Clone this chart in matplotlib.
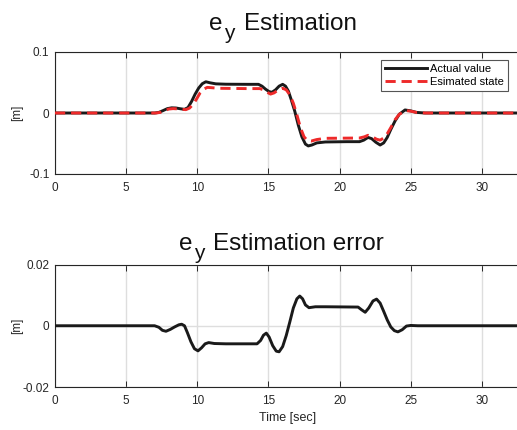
import matplotlib
matplotlib.use("Agg")
import matplotlib.pyplot as plt

plt.rcParams['font.family'] = ['Liberation Sans', 'DejaVu Sans']

# ---- data ----
t_actual = [0, 7.0, 7.3, 7.6, 7.9, 8.2, 8.5, 8.8, 9.1, 9.35, 9.6, 9.85, 10.1, 10.35,
            10.6, 10.9, 11.3, 12.0, 13.5, 14.3, 14.55, 14.8, 15.05, 15.25, 15.5, 15.75,
            16.0, 16.2, 16.4, 16.6, 16.85, 17.1, 17.35, 17.6, 17.8, 18.05, 18.4, 19.0,
            20.5, 21.4, 21.7, 22.0, 22.25, 22.55, 22.85, 23.1, 23.35, 23.6, 23.9, 24.2,
            24.6, 25.0, 25.4, 26.0, 33.0]
v_actual = [0, 0, 0.001, 0.004, 0.0072, 0.0085, 0.0082, 0.007, 0.006, 0.009, 0.019,
            0.031, 0.041, 0.048, 0.0512, 0.0495, 0.0478, 0.0472, 0.047, 0.047, 0.044,
            0.039, 0.035, 0.034, 0.038, 0.044, 0.047, 0.044, 0.036, 0.022, 0.003, -0.020,
            -0.039, -0.051, -0.054, -0.0525, -0.049, -0.0475, -0.047, -0.047, -0.0445,
            -0.040, -0.042, -0.048, -0.0525, -0.049, -0.040, -0.027, -0.013, -0.002,
            0.005, 0.0035, 0.001, 0, 0]

t_est = [0, 7.1, 7.4, 7.7, 8.0, 8.3, 8.6, 8.9, 9.2, 9.45, 9.7, 9.95, 10.2, 10.45, 10.7,
         11.0, 11.5, 13.5, 14.4, 14.65, 14.9, 15.15, 15.4, 15.7, 16.0, 16.25, 16.5,
         16.75, 17.0, 17.25, 17.5, 17.75, 18.0, 18.4, 19.0, 21.4, 21.75, 22.0, 22.3,
         22.6, 22.85, 23.1, 23.35, 23.6, 23.9, 24.2, 24.65, 25.0, 25.4, 26.0, 33.0]
v_est = [0, 0, 0.001, 0.004, 0.0065, 0.0072, 0.0068, 0.006, 0.0055, 0.008, 0.014,
         0.023, 0.033, 0.039, 0.042, 0.0415, 0.0405, 0.040, 0.040, 0.038, 0.034, 0.031,
         0.033, 0.038, 0.0405, 0.038, 0.030, 0.016, -0.003, -0.024, -0.039, -0.0455,
         -0.046, -0.0435, -0.0415, -0.041, -0.039, -0.0365, -0.039, -0.043, -0.0445,
         -0.041, -0.034, -0.024, -0.011, -0.002, 0.004, 0.003, 0.001, 0, 0]

t_err = [0, 7.0, 7.3, 7.55, 7.8, 8.1, 8.4, 8.7, 8.9, 9.1, 9.3, 9.55, 9.8, 10.05, 10.3,
         10.55, 10.8, 11.2, 12.0, 14.2, 14.45, 14.65, 14.85, 15.05, 15.3, 15.55, 15.75,
         16.0, 16.25, 16.5, 16.75, 17.0, 17.2, 17.4, 17.6, 17.85, 18.3, 19.0, 21.3,
         21.55, 21.8, 22.05, 22.35, 22.6, 22.85, 23.1, 23.35, 23.6, 23.85, 24.1, 24.4,
         24.7, 25.0, 25.5, 33.0]
v_err = [0, 0, -0.0005, -0.0015, -0.0018, -0.0012, -0.0004, 0.0003, 0.0005, 0.0,
         -0.0022, -0.0052, -0.0075, -0.0082, -0.0072, -0.0059, -0.0055, -0.0058, -0.0059,
         -0.0059, -0.0048, -0.0031, -0.0024, -0.0037, -0.0065, -0.0083, -0.0085, -0.0068,
         -0.0032, 0.0012, 0.0058, 0.0088, 0.0097, 0.0088, 0.0068, 0.0059, 0.0062, 0.0062,
         0.0061, 0.0052, 0.0044, 0.0058, 0.0081, 0.0087, 0.0074, 0.0047, 0.0019, -0.0004,
         -0.0016, -0.002, -0.0013, -0.0001, 0.0001, 0, 0]

x_ticks = [0, 5, 10, 15, 20, 25, 30]
y_ticks_top = [-0.1, 0, 0.1]
y_ticks_bot = [-0.02, 0, 0.02]
y_labels_top = ['-0.1', '0', '0.1']
y_labels_bot = ['-0.02', '0', '0.02']

W, H = 517, 430
fig = plt.figure(figsize=(W / 100, H / 100), dpi=100)

axc = '#262626'
gridc = '#dedede'


def style(ax, yt, yl):
    ax.set_xlim(0, 32.68)
    ax.set_xticks(x_ticks)
    ax.set_xticklabels([str(v) for v in x_ticks])
    ax.set_yticks(yt)
    ax.set_yticklabels(yl)
    ax.grid(True, color=gridc, linewidth=1.0)
    ax.set_axisbelow(True)
    ax.tick_params(direction='in', length=4, width=0.7, colors=axc, labelsize=8.5,
                   top=True, right=True)
    ax.tick_params(axis='x', pad=6)
    ax.tick_params(axis='y', pad=4)
    for s in ax.spines.values():
        s.set_color(axc)
        s.set_linewidth(0.8)


ax1 = fig.add_axes([55 / W, (H - 174) / H, 465 / W, 122 / H])
ax1.set_ylim(-0.1, 0.1)
style(ax1, y_ticks_top, y_labels_top)
ax1.plot(t_actual, v_actual, color='#1a1a1a', lw=2.1, label='Actual value', zorder=3)
ax1.plot(t_est, v_est, color='#ee2a2a', lw=2.1, dashes=(3.5, 2.0), label='Esimated state', zorder=4)
ax1.set_ylabel('[m]', fontsize=8.5, color=axc)
ax1.yaxis.set_label_coords(-32 / 465, 0.5)
leg = ax1.legend(loc='upper right', bbox_to_anchor=(508 / W, 1 - 60 / H),
                 bbox_transform=fig.transFigure, fontsize=8, handlelength=3.8,
                 fancybox=False, framealpha=1, edgecolor='#555555', borderpad=0.35,
                 labelspacing=0.25, handletextpad=0.3, borderaxespad=0)
leg.get_frame().set_linewidth(0.8)

ax2 = fig.add_axes([55 / W, (H - 387) / H, 465 / W, 122.5 / H])
ax2.set_ylim(-0.02, 0.02)
style(ax2, y_ticks_bot, y_labels_bot)
ax2.plot(t_err, v_err, color='#1a1a1a', lw=2.1, zorder=3)
ax2.set_ylabel('[m]', fontsize=8.5, color=axc)
ax2.yaxis.set_label_coords(-32 / 465, 0.5)
ax2.set_xlabel('Time [sec]', fontsize=9, color=axc, labelpad=3)


def title(x_e, x_y, x_rest, base, rest):
    kw = dict(ha='left', va='baseline', color='#111111')
    fig.text(x_e / W, 1 - base / H, 'e', fontsize=17.5, **kw)
    fig.text(x_y / W, 1 - (base + 9) / H, 'y', fontsize=15, **kw)
    fig.text(x_rest / W, 1 - base / H, rest, fontsize=17.5, **kw)


title(209, 224, 244, 30, 'Estimation')
title(179, 194, 213, 250, 'Estimation error')

fig.savefig('out.png', dpi=100)
